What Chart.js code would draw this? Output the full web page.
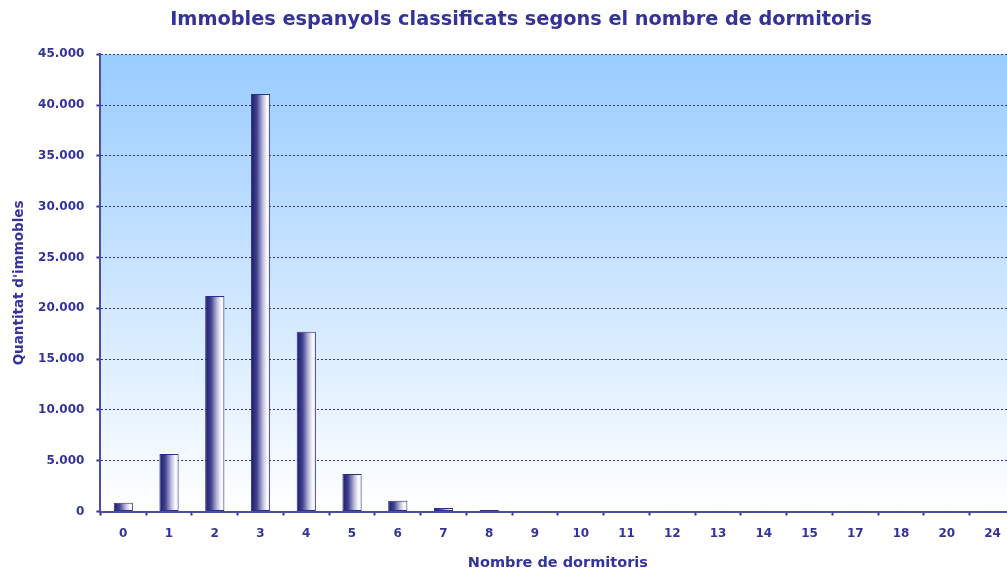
<!DOCTYPE html>
<html>
<head>
<meta charset="utf-8">
<title>Immobles per nombre de dormitoris</title>
<script src="https://cdn.jsdelivr.net/npm/chart.js@4/dist/chart.umd.min.js"></script>
<style>
  html, body { margin: 0; padding: 0; background: #ffffff; overflow: hidden; }
  #wrap { width: 1040px; height: 572px; }
</style>
</head>
<body>
<div id="wrap"><canvas id="chart" width="1040" height="572"></canvas></div>
<script>
// Number of bedrooms (categories on the x axis)
const bedrooms = ['0', '1', '2', '3', '4', '5', '6', '7', '8', '9', '10', '11', '12', '13', '14', '15', '17', '18', '20', '24'];
// Number of properties for each bedroom count
const properties = [850, 5650, 21200, 41100, 17700, 3700, 1050, 350, 150, 60, 30, 15, 10, 5, 4, 3, 2, 2, 1, 1];
// Value axis ticks
const yTicks = [0, 5000, 10000, 15000, 20000, 25000, 30000, 35000, 40000, 45000];

const TITLE = 'Immobles espanyols classificats segons el nombre de dormitoris';
const NAVY = '#333399';
const AXIS = '#4d4da6';
const FONT = 'DejaVu Sans';

// Thousands separated with a dot, as in Catalan notation
function fmt(v) {
  return String(v).replace(/\B(?=(\d{3})+(?!\d))/g, '.');
}

// Blue-to-white backdrop behind the plot area, plus the heading above it
const plotBackdrop = {
  id: 'plotBackdrop',
  beforeDraw(chart) {
    const { ctx, chartArea: a } = chart;
    ctx.save();
    ctx.fillStyle = '#ffffff';
    ctx.fillRect(0, 0, chart.width, chart.height);
    const g = ctx.createLinearGradient(0, a.top, 0, a.bottom);
    g.addColorStop(0, '#99ccff');
    g.addColorStop(1, '#ffffff');
    ctx.fillStyle = g;
    ctx.fillRect(a.left, a.top, a.right - a.left, a.bottom - a.top);

    ctx.fillStyle = NAVY;
    ctx.font = 'bold 19.3px "' + FONT + '"';
    ctx.textAlign = 'center';
    ctx.textBaseline = 'middle';
    ctx.fillText(TITLE, 521, 19.5);
    ctx.restore();
  }
};

const BAR_FRACTION = 0.42;

// Cylinder-like horizontal shading for every bar
function barShade(context) {
  const chart = context.chart;
  const x = chart.scales && chart.scales.x;
  if (!x || context.dataIndex === undefined) return NAVY;
  const cx = x.getPixelForValue(context.dataIndex);
  const half = (x.width / bedrooms.length) * BAR_FRACTION / 2;
  if (!isFinite(cx) || !isFinite(half) || half <= 0) return NAVY;
  const g = chart.ctx.createLinearGradient(cx - half, 0, cx + half, 0);
  g.addColorStop(0, '#1a1a66');
  g.addColorStop(0.3, '#40408f');
  g.addColorStop(0.62, '#bcbcde');
  g.addColorStop(0.85, '#ffffff');
  g.addColorStop(1, '#dcdcea');
  return g;
}

new Chart(document.getElementById('chart'), {
  type: 'bar',
  data: {
    labels: bedrooms,
    datasets: [{
      data: properties,
      backgroundColor: barShade,
      borderColor: '#2e2e86',
      borderWidth: 1,
      borderSkipped: false,
      categoryPercentage: 1,
      barPercentage: BAR_FRACTION
    }]
  },
  plugins: [plotBackdrop],
  options: {
    responsive: false,
    animation: false,
    devicePixelRatio: 1,
    layout: { padding: { left: 0, right: 24.6, top: 54.3, bottom: 0 } },
    plugins: {
      legend: { display: false },
      tooltip: { enabled: false },
      title: { display: false }
    },
    scales: {
      x: {
        type: 'category',
        afterFit(scale) { scale.height = 60.5; },
        grid: {
          display: true,
          offset: true,
          drawOnChartArea: false,
          drawTicks: true,
          tickLength: 4,
          tickColor: NAVY,
          tickWidth: 2
        },
        border: { display: true, color: AXIS, width: 2 },
        ticks: {
          color: NAVY,
          font: { family: FONT, size: 12, weight: 'bold' },
          padding: 11,
          maxRotation: 0,
          autoSkip: false
        },
        title: {
          display: true,
          text: 'Nombre de dormitoris',
          color: NAVY,
          font: { family: FONT, size: 14.5, weight: 'bold' },
          padding: { top: 0, bottom: 0 }
        }
      },
      y: {
        min: 0,
        max: 45000,
        afterFit(scale) { scale.width = 100.4; },
        afterBuildTicks(scale) { scale.ticks = yTicks.map(v => ({ value: v })); },
        grid: {
          color: NAVY,
          lineWidth: 1,
          drawTicks: true,
          tickLength: 4,
          tickColor: NAVY,
          tickWidth: 2,
          tickBorderDash: []
        },
        border: { display: true, color: AXIS, width: 2, dash: [2, 2] },
        ticks: {
          color: NAVY,
          font: { family: FONT, size: 12, weight: 'bold' },
          padding: 12,
          callback: (v) => fmt(v)
        },
        title: {
          display: true,
          text: "Quantitat d'immobles",
          color: NAVY,
          font: { family: FONT, size: 13.5, weight: 'bold' },
          padding: { top: 11, bottom: 0 }
        }
      }
    }
  }
});
</script>
</body>
</html>
